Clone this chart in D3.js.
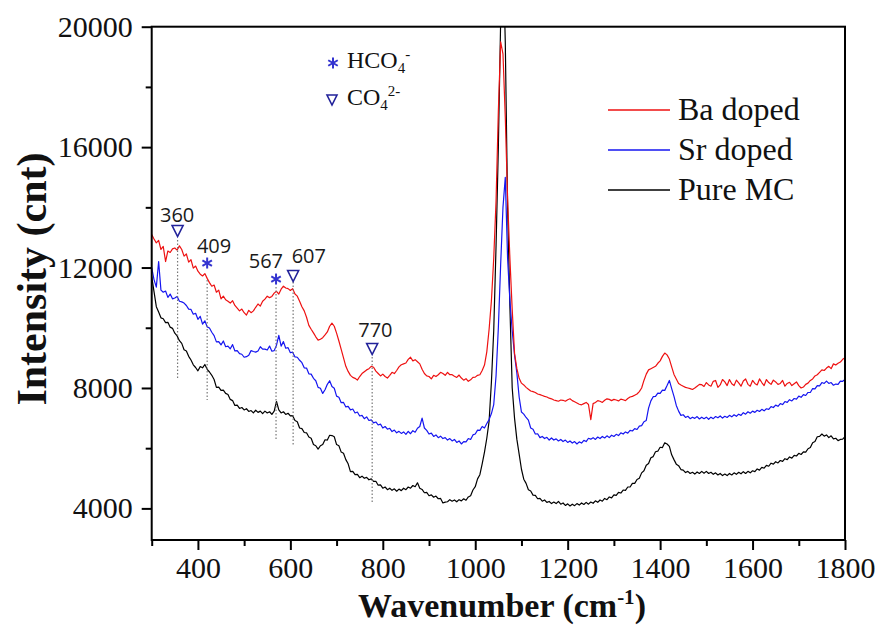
<!DOCTYPE html>
<html><head><meta charset="utf-8">
<script src="https://cdn.jsdelivr.net/npm/d3@7"></script>
<style>body{margin:0;background:#fff}</style>
</head><body><svg id="c" width="880" height="625"></svg>
<script>
// ---------- data ----------
const wavenumbers = [
 300,305,310,315,320,325,330,335,340,345, 350,355,360,365,370,375,380,385,390,395,
 400,405,410,415,420,425,430,435,440,445, 450,455,460,465,470,475,480,485,490,495,
 500,505,510,515,520,525,530,535,540,545, 550,555,560,565,570,575,580,585,590,595,
 600,605,610,615,620,625,630,635,640,645, 650,655,660,665,670,675,680,685,690,695,
 700,705,710,715,720,725,730,735,740,745, 750,755,760,765,770,775,780,785,790,795,
 800,805,810,815,820,825,830,835,840,845, 850,855,860,865,870,875,880,885,890,895,
 900,905,910,915,920,925,930,935,940,945, 950,955,960,965,970,975,980,985,990,995,
 1000,1005,1010,1015,1020,1025,1030,
 1035,1040,1045,1050,1055,1060,1065,1070,1075,1080,1085,1090,1095,1100,
 1105,1110,1115,1120,1125,1130,1135,1140,1145,1150, 1155,1160,1165,1170,1175,1180,1185,1190,1195,1200,
 1205,1210,1215,1220,1225,1230,1235,1240,1245,1250, 1255,1260,1265,1270,1275,1280,1285,1290,1295,1300,
 1305,1310,1315,1320,1325,1330,1335,1340,1345,1350, 1355,1360,1365,1370,1375,1380,1385,1390,1395,1400,
 1405,1410,1415,1420,1425,1430,1435,1440,1445,1450, 1455,1460,1465,1470,1475,1480,1485,1490,1495,1500,
 1505,1510,1515,1520,1525,1530,1535,1540,1545,1550, 1555,1560,1565,1570,1575,1580,1585,1590,1595,1600,
 1605,1610,1615,1620,1625,1630,1635,1640,1645,1650, 1655,1660,1665,1670,1675,1680,1685,1690,1695,1700,
 1705,1710,1715,1720,1725,1730,1735,1740,1745,1750, 1755,1760,1765,1770,1775,1780,1785,1790,1795,1800];
const baDoped = [
 13100,12950,12820,12900,12600,12700,12200,12550,12500,12620, 12650,12580,12720,12600,12380,12450,12180,12260,11980,12050,
 11880,11780,11720,11800,11640,11500,11380,11420,11180,11250, 10960,11050,10930,10880,10820,10900,10740,10650,10560,10620,
 10500,10420,10580,10500,10560,10680,10790,10720,10880,10950, 11050,11000,11040,11150,11210,11120,11280,11380,11320,11300,
 11240,11300,11120,11050,10880,10700,10560,10350,10080,9950, 9830,9700,9590,9620,9670,9760,9860,10050,10150,10050,
 9820,9560,9280,9000,8720,8550,8420,8350,8320,8260, 8380,8480,8540,8600,8640,8720,8690,8560,8480,8400,
 8460,8380,8330,8420,8520,8480,8580,8700,8770,8800, 8830,8950,9020,8900,8940,8870,8800,8620,8480,8400,
 8380,8300,8420,8380,8440,8520,8480,8420,8520,8440, 8440,8390,8350,8430,8330,8260,8310,8220,8270,8350,
 8360,8420,8440,8580,8760,9200,9950,
 10900,12300,14200,17200,19500,19100,17000,14300,12300,10600,9150,8650,8320,8160,
 8100,8020,7960,7900,7880,7850,7800,7780,7750,7720, 7700,7660,7640,7600,7580,7560,7600,7590,7560,7610,
 7640,7580,7540,7500,7460,7440,7480,7520,7450,6950, 7480,7520,7580,7560,7520,7590,7640,7620,7580,7620,
 7600,7570,7630,7610,7580,7650,7700,7720,7760,7800, 7880,8000,8250,8460,8600,8640,8680,8720,8820,8900,
 9050,9160,9100,8960,8700,8450,8300,8150,8100,8060, 8020,8000,7980,7950,8000,8060,8120,8110,8050,8180,
 8100,8060,8220,8250,8020,8100,8280,8200,8080,8280, 8140,8080,8260,8170,8060,8230,8300,8120,8060,8250,
 8150,8100,8300,8180,8080,8280,8180,8120,8260,8200, 8120,8150,8250,8060,8150,8190,8080,8140,8200,8080,
 8000,8030,8120,8160,8250,8300,8400,8440,8520,8600, 8580,8660,8720,8640,8800,8760,8820,8860,8950,9000];
const srDoped = [
 12000,11600,11350,12200,11250,11180,11220,11010,11120,10960, 10990,11040,10880,10860,10820,10740,10620,10610,10450,10480,
 10280,10380,10120,10230,10030,9990,9850,9740,9530,9540, 9430,9560,9370,9390,9300,9440,9230,9240,9140,9120,
 9020,9040,9090,9240,9210,9190,9230,9370,9290,9290, 9260,9390,9220,9240,9420,9750,9390,9540,9320,9340,
 9170,9190,9030,9020,8920,8840,8670,8660,8470,8460, 8320,8240,8020,7990,7820,7940,8120,8240,8050,7990,
 7730,7690,7510,7520,7370,7390,7270,7300,7170,7200, 7070,7090,6980,7040,6920,6940,6840,6870,6770,6800,
 6670,6720,6630,6660,6550,6600,6510,6560,6490,6540, 6460,6560,6480,6580,6530,6660,6720,7000,6670,6590,
 6470,6500,6390,6440,6350,6400,6320,6350,6270,6320, 6240,6290,6190,6240,6140,6220,6210,6320,6290,6440,
 6470,6600,6590,6720,6670,6820,6950,
 7150,7450,8400,10000,12100,14000,15000,12300,10900,9900,9100,8500,7700,7200,
 7130,7020,6930,6670,6630,6470,6480,6350,6390,6320, 6360,6270,6340,6270,6310,6240,6290,6220,6270,6190,
 6240,6170,6220,6140,6210,6170,6260,6220,6330,6300, 6350,6290,6370,6320,6390,6340,6410,6350,6430,6390,
 6460,6420,6510,6470,6540,6500,6590,6570,6650,6620, 6730,6750,6880,6920,7330,7570,7710,7720,7830,7820,
 7930,7920,8080,8250,7980,7720,7420,7230,7090,7110, 7020,7060,6980,7030,6990,7050,6970,7030,6980,7030,
 6960,7030,6980,7050,7010,7070,7000,7060,7020,7090, 7040,7110,7060,7130,7090,7180,7130,7210,7160,7230,
 7190,7260,7220,7290,7240,7310,7290,7380,7350,7430, 7390,7480,7450,7550,7520,7610,7570,7650,7630,7730,
 7690,7780,7750,7850,7850,7980,7970,8080,8070,8180, 8150,8230,8150,8180,8090,8130,8120,8230,8220,8280];
const pureMC = [
 11700,11200,10700,10520,10330,10300,10170,10180,10020,9980, 9820,9730,9570,9480,9270,9230,9050,8930,8770,8680,
 8570,8710,8670,8780,8620,8530,8420,8280,8020,8030, 7920,7930,7820,7780,7620,7580,7420,7430,7320,7350,
 7270,7310,7220,7250,7170,7260,7190,7230,7150,7230, 7170,7210,7120,7230,7550,7270,7170,7210,7120,7160,
 7070,7080,6920,6880,6670,6650,6520,6510,6370,6330, 6120,6080,5970,6080,6120,6280,6270,6430,6420,6380,
 6120,6080,5870,5830,5620,5480,5220,5230,5120,5130, 5020,5070,5000,5030,4950,4980,4900,4900,4770,4780,
 4670,4710,4620,4670,4600,4650,4570,4640,4590,4670, 4620,4710,4670,4760,4720,4850,4670,4630,4520,4530,
 4420,4450,4370,4410,4320,4330,4180,4210,4220,4290, 4240,4280,4220,4290,4250,4320,4270,4380,4420,4610,
 4720,4980,5120,5480,5870,6330,6900,
 8200,9900,12700,16000,20200,22500,19500,14000,10700,8000,7000,6300,5800,5300,
 4970,4830,4620,4580,4440,4430,4320,4330,4240,4280, 4200,4230,4160,4210,4160,4230,4140,4180,4100,4150,
 4080,4140,4090,4160,4110,4180,4130,4200,4140,4210, 4170,4250,4200,4280,4240,4330,4290,4380,4350,4450,
 4430,4530,4510,4610,4600,4710,4710,4830,4830,4960, 5000,5180,5250,5430,5490,5680,5720,5880,5900,6030,
 6020,6180,6140,6060,5780,5620,5470,5420,5290,5270, 5190,5230,5160,5200,5140,5210,5160,5230,5170,5230,
 5160,5200,5130,5180,5110,5160,5090,5140,5090,5160, 5110,5180,5130,5200,5150,5220,5160,5230,5180,5250,
 5220,5310,5270,5360,5340,5430,5400,5500,5470,5550, 5510,5590,5560,5650,5620,5710,5670,5760,5740,5830,
 5790,5880,5870,5980,6020,6180,6220,6380,6390,6470, 6400,6440,6350,6410,6310,6330,6250,6290,6300,6380];
const seriesNames = ["Ba doped", "Sr doped", "Pure MC"];
const seriesColors = ["#ee1111", "#1515f0", "#000000"];
const xTicksMajor = [400, 600, 800, 1000, 1200, 1400, 1600, 1800];
const xTicksMinor = [300, 500, 700, 900, 1100, 1300, 1500, 1700];
const yTicksMajor = [4000, 8000, 12000, 16000, 20000];
const yTicksMinor = [6000, 10000, 14000, 18000];
// peak annotations
const peakLabels = ["360", "409", "567", "607", "770"];
const peakKind = ["tri", "star", "star", "tri", "tri"];
const peakLineX = [356, 420, 569, 606, 777];
const peakLineTop = [12915, 11585, 11353, 11519, 9027];
const peakLineBottom = [8330, 7600, 6270, 6104, 4177];
const peakMarkY = [13213, 12150, 11618, 11718, 9293];
const peakLabelX = [355, 435, 547, 640, 784];
const peakLabelY = [13512, 12482, 11984, 12150, 9692];

// ---------- layout ----------
const svg = d3.select("#c");
const L = 151.7, R = 845, T = 26.7, B = 540;
const x = d3.scaleLinear([300, 1800], [L, R]);
const y = d3.scaleLinear([2950, 20000], [B, T]);
const serif = "'Liberation Serif','Times New Roman',Times,serif";

svg.append("rect").attr("width", 880).attr("height", 625).attr("fill", "#fff");

svg.append("clipPath").attr("id", "clip").append("rect")
  .attr("x", L).attr("y", T).attr("width", R - L).attr("height", B - T);

// series
const seriesData = [baDoped, srDoped, pureMC];
const line = d3.line().x((d, i) => x(wavenumbers[i])).y(d => y(d));
const g = svg.append("g").attr("clip-path", "url(#clip)");
[2, 1, 0].forEach(k => {
  g.append("path").datum(seriesData[k]).attr("d", line)
    .attr("fill", "none").attr("stroke", seriesColors[k])
    .attr("stroke-width", 1.2).attr("stroke-linejoin", "round");
});

// dotted peak lines
peakLabels.forEach((lab, i) => {
  svg.append("line")
    .attr("x1", x(peakLineX[i])).attr("x2", x(peakLineX[i]))
    .attr("y1", y(peakLineTop[i])).attr("y2", y(peakLineBottom[i]))
    .attr("stroke", "#777").attr("stroke-width", 1.2).attr("stroke-dasharray", "1.5,2");
});

function triangle(cx, cy, s) {
  const h = s * 1.0;
  return `M${cx - s / 2},${cy - h / 2}L${cx + s / 2},${cy - h / 2}L${cx},${cy + h / 2}Z`;
}
function asterisk(sel, cx, cy, r, color) {
  [90, 30, 150].forEach(a => {
    const rad = a * Math.PI / 180;
    sel.append("line")
      .attr("x1", cx - r * Math.cos(rad)).attr("y1", cy - r * Math.sin(rad))
      .attr("x2", cx + r * Math.cos(rad)).attr("y2", cy + r * Math.sin(rad))
      .attr("stroke", color).attr("stroke-width", 2);
  });
}

peakLabels.forEach((lab, i) => {
  const mx = x(peakLineX[i]), my = y(peakMarkY[i]);
  if (peakKind[i] === "tri") {
    svg.append("path").attr("d", triangle(mx, my, 11))
      .attr("fill", "none").attr("stroke", "#22229a").attr("stroke-width", 1.6);
  } else {
    asterisk(svg, mx, my, 5.5, "#3434d0");
  }
  svg.append("text").attr("x", x(peakLabelX[i])).attr("y", y(peakLabelY[i]))
    .attr("text-anchor", "middle").attr("font-family", "'Open Sans','DejaVu Sans',sans-serif")
    .attr("font-size", 20).attr("fill", "#1a1a1a").text(lab);
});

// frame
svg.append("rect").attr("x", L).attr("y", T).attr("width", R - L).attr("height", B - T)
  .attr("fill", "none").attr("stroke", "#000").attr("stroke-width", 2);

// axes
function styleAxis(sel) {
  sel.select(".domain").remove();
  sel.selectAll(".tick line").attr("stroke", "#000").attr("stroke-width", 2);
  sel.selectAll("text").attr("font-family", serif).attr("font-size", 30).attr("fill", "#111");
}
const xa = svg.append("g").attr("transform", `translate(0,${B})`)
  .call(d3.axisBottom(x).tickValues(xTicksMajor).tickSize(10).tickPadding(7).tickFormat(d3.format("d")));
styleAxis(xa);
const xm = svg.append("g").attr("transform", `translate(0,${B})`)
  .call(d3.axisBottom(x).tickValues(xTicksMinor).tickSize(6).tickFormat(""));
styleAxis(xm);
const ya = svg.append("g").attr("transform", `translate(${L},0)`)
  .call(d3.axisLeft(y).tickValues(yTicksMajor).tickSize(10).tickPadding(9).tickFormat(d3.format("d")));
styleAxis(ya);
const ym = svg.append("g").attr("transform", `translate(${L},0)`)
  .call(d3.axisLeft(y).tickValues(yTicksMinor).tickSize(6).tickFormat(""));
styleAxis(ym);

// axis titles
const xt = svg.append("text").attr("x", 502).attr("y", 616.5).attr("text-anchor", "middle")
  .attr("font-family", serif).attr("font-weight", "bold").attr("font-size", 34).attr("fill", "#111");
xt.append("tspan").text("Wavenumber (cm");
xt.append("tspan").attr("dy", -13).attr("font-size", 21).text("-1");
xt.append("tspan").attr("dy", 13).text(")");

svg.append("text").attr("transform", "translate(46,279) rotate(-90)").attr("text-anchor", "middle")
  .attr("font-family", serif).attr("font-weight", "bold").attr("font-size", 42).attr("fill", "#111")
  .text("Intensity (cnt)");

// legend (series)
seriesNames.forEach((n, i) => {
  const ly = 110 + i * 40;
  svg.append("line").attr("x1", 608).attr("x2", 670).attr("y1", ly).attr("y2", ly)
    .attr("stroke", seriesColors[i]).attr("stroke-width", 1.3);
  svg.append("text").attr("x", 678).attr("y", ly + 10).attr("font-family", serif)
    .attr("font-size", 32).attr("fill", "#111").text(n);
});

// legend (ions)
asterisk(svg, 333, 63, 5.5, "#3434d0");
const t1 = svg.append("text").attr("x", 347).attr("y", 68).attr("font-family", serif)
  .attr("font-size", 24).attr("fill", "#111");
t1.append("tspan").text("HCO");
t1.append("tspan").attr("dy", 5).attr("font-size", 15).text("4");
t1.append("tspan").attr("dy", -14).attr("font-size", 15).text("-");
svg.append("path").attr("d", triangle(332, 100, 10))
  .attr("fill", "none").attr("stroke", "#22229a").attr("stroke-width", 1.6);
const t2 = svg.append("text").attr("x", 347).attr("y", 105).attr("font-family", serif)
  .attr("font-size", 24).attr("fill", "#111");
t2.append("tspan").text("CO");
t2.append("tspan").attr("dy", 5).attr("font-size", 15).text("4");
t2.append("tspan").attr("dy", -14).attr("font-size", 15).text("2-");
</script></body></html>
